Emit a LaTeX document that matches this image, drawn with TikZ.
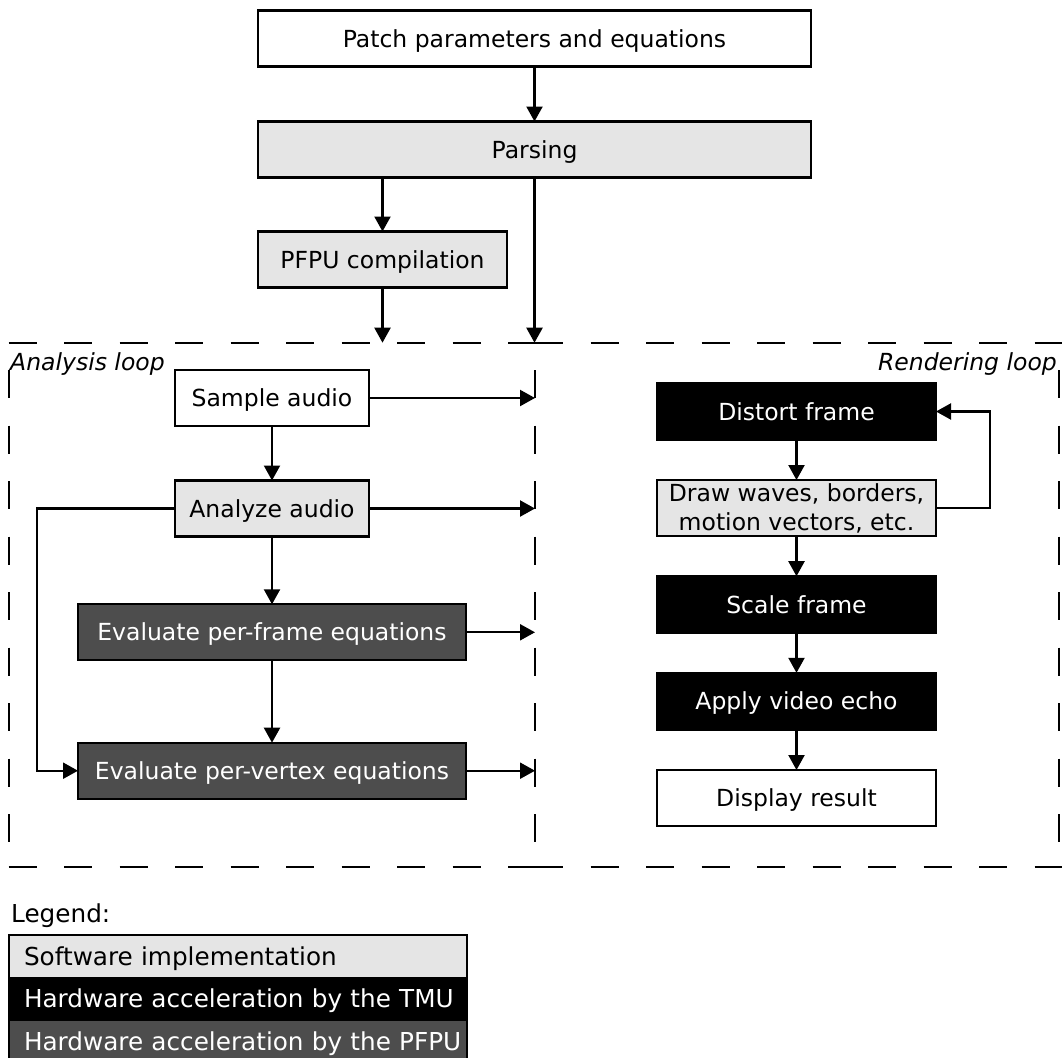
\documentclass[tikz,border=0pt]{standalone}
\usepackage{fontspec}
\setmainfont{DejaVu Sans}
\usetikzlibrary{arrows.meta}

\definecolor{swgray}{RGB}{229,229,229}
\definecolor{pfpugray}{RGB}{77,77,77}

\begin{document}
\begin{tikzpicture}[x=1pt,y=-1pt,
  box/.style={draw=black, line width=2.2pt, inner sep=0pt, outer sep=0pt,
              minimum height=56pt, text height=17.1pt, text depth=0pt,
              font=\fontsize{23.5}{28}\selectfont},
  plain/.style={box, fill=white},
  sw/.style={box, fill=swgray},
  tmu/.style={box, fill=black, text=white},
  pfpu/.style={box, fill=pfpugray, text=white},
  flow/.style={line width=2.2pt, -{Triangle[length=15pt,width=16pt]}},
  loopline/.style={line width=2pt, dash pattern=on 28pt off 27.5pt},
  looplabel/.style={font=\fontsize{23.5}{28}\selectfont\itshape, inner sep=0pt},
  legendrow/.style={draw=black, line width=2pt, inner sep=0pt, outer sep=0pt,
              minimum width=458pt, minimum height=42.5pt, anchor=north west,
              text width=427pt, align=left, text height=17.8pt, text depth=0pt,
              font=\fontsize{24.7}{29}\selectfont},
]
\useasboundingbox (0,0) rectangle (1062,1057);
\fill[white] (0,0) rectangle (1062,1057);

% ---- loop frames ----
\coordinate (tl) at (8.5,342.7);
\coordinate (mid) at (535,342.7);
\coordinate (tr) at (1059,342.7);
\coordinate (bl) at (8.5,866.7);
\coordinate (bm) at (535,866.7);
\coordinate (br) at (1059,866.7);

\draw[loopline] (tl) -- (mid);
\draw[loopline] (bl) -- (bm);
\draw[loopline] (mid) -- (1062,342.7);
\draw[loopline] (bm) -- (1062,866.7);
\draw[loopline, dash phase=28pt] (tl) -- (bl);
\draw[loopline, dash phase=28pt] (mid) -- (bm);
\draw[loopline, dash phase=28pt] (tr) -- (br);

\node[looplabel, anchor=base west] (alabel) at (10,370) {Analysis loop};
\node[looplabel, anchor=base east] (rlabel) at (1057,370) {Rendering loop};

% ---- preparation ----
\node[plain, minimum width=553pt] (patch) at (534.5,38.5) {Patch parameters and equations};
\node[sw, minimum width=553pt] (parse) at (534.5,149.5) {Parsing};
\node[sw, minimum width=249pt] (pfpuc) at (382.5,259.5) {PFPU compilation};

\draw[flow] (patch.south) -- (parse.north);
\draw[flow] (parse.south -| pfpuc.north) -- (pfpuc.north);
\draw[flow] (parse.south) -- (parse.south |- mid);
\draw[flow] (pfpuc.south) -- (pfpuc.south |- mid);

% ---- analysis loop ----
\node[plain, minimum width=194pt] (sample) at (272,398) {Sample audio};
\node[sw, minimum width=194pt] (analyze) at (272,508.5) {Analyze audio};
\node[pfpu, minimum width=388pt] (evframe) at (272,632.3) {Evaluate per-frame equations};
\node[pfpu, minimum width=388pt] (evvertex) at (272,770.7) {Evaluate per-vertex equations};

\draw[flow] (sample) -- (analyze);
\draw[flow] (analyze) -- (evframe);
\draw[flow] (evframe) -- (evvertex);
\draw[flow] (analyze.west) -- ++(-138,0) |- (evvertex.west);

\draw[flow] (sample.east) -- (sample.east -| mid);
\draw[flow] (analyze.east) -- (analyze.east -| mid);
\draw[flow] (evframe.east) -- (evframe.east -| mid);
\draw[flow] (evvertex.east) -- (evvertex.east -| mid);

% ---- rendering loop ----
\node[tmu, minimum width=279pt, minimum height=57.5pt] (distort) at (796.5,411.5) {Distort frame};
\node[sw, minimum width=279pt, align=center, text height=, text depth=,
      font=\fontsize{23.5}{29}\selectfont] (waves) at (796.5,508) {Draw waves, borders,\\motion vectors, etc.};
\node[tmu, minimum width=279pt, minimum height=57pt] (scale) at (796.5,604.7) {Scale frame};
\node[tmu, minimum width=279pt, minimum height=57pt] (echo) at (796.5,701.3) {Apply video echo};
\node[plain, minimum width=279pt] (display) at (796.5,798) {Display result};

\draw[flow] (distort) -- (waves);
\draw[flow] (waves) -- (scale);
\draw[flow] (scale) -- (echo);
\draw[flow] (echo) -- (display);
\draw[flow] (waves.east) -- ++(54,0) |- (distort.east);

% ---- legend ----
\node[anchor=base west, inner sep=0pt, font=\fontsize{24.7}{29}\selectfont] (legend) at (11,922.7) {Legend:};
\node[legendrow, fill=swgray] (lsw) at (8.5,935) {\mbox{Software implementation}};
\node[legendrow, fill=black, text=white] (ltmu) at (lsw.south west) {\mbox{Hardware acceleration by the TMU}};
\node[legendrow, fill=pfpugray, text=white] (lpfpu) at (ltmu.south west) {\mbox{Hardware acceleration by the PFPU}};
\end{tikzpicture}
\end{document}
